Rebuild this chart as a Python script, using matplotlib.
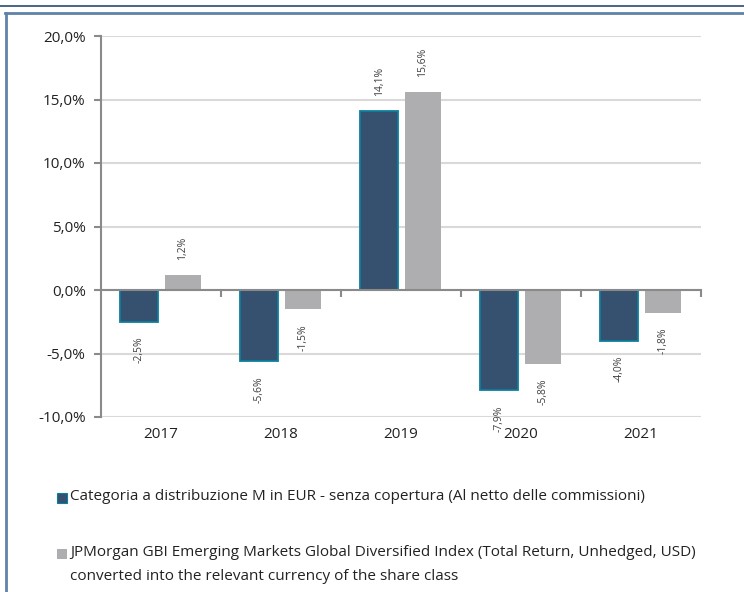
import matplotlib.pyplot as plt
from matplotlib.lines import Line2D
from matplotlib.patches import Rectangle
import numpy as np

years = ['2017', '2018', '2019', '2020', '2021']
fund = [-2.5, -5.6, 14.1, -7.9, -4.0]
index = [1.2, -1.5, 15.6, -5.8, -1.8]
fund_label = 'Categoria a distribuzione M in EUR - senza copertura (Al netto delle commissioni)'
index_label = ('JPMorgan GBI Emerging Markets Global Diversified Index (Total Return, Unhedged, USD)\n'
               'converted into the relevant currency of the share class')

plt.rcParams['font.family'] = ['Liberation Sans Narrow', 'Open Sans', 'DejaVu Sans']

dark = '#36506f'
edge = '#0b7f9c'
grey = '#aeaeb0'
W, H = 744, 592

fig = plt.figure(figsize=(W / 100, H / 100), dpi=100)
ax = fig.add_axes([101 / W, 1 - 417 / H, 600 / W, 381 / H])

x = np.arange(len(years))
ax.bar(x - 0.183, fund, width=0.31, color=dark, edgecolor=edge, linewidth=1.3, zorder=3)
ax.bar(x + 0.183, index, width=0.30, color=grey, zorder=3)

def fmt(v):
    return f'{v:.1f}%'.replace('.', ',')

for xs, vals in ((x - 0.183, fund), (x + 0.183, index)):
    for xi, v in zip(xs, vals):
        off = 15 if v >= 0 else -15
        ax.annotate(fmt(v), (xi, v), xytext=(0, off), textcoords='offset pixels',
                    rotation=90, ha='center', va='bottom' if v >= 0 else 'top',
                    fontsize=7.5, color='#404040')

ax.set_xlim(-0.5, 4.5)
ax.set_ylim(-10, 20)
ax.set_yticks(np.arange(-10, 21, 5))
ax.set_yticklabels([fmt(v) for v in np.arange(-10, 21, 5)], fontsize=11, color='#222222')
ax.grid(axis='y', color='#d9d9d9', linewidth=1.5, zorder=0)
ax.set_axisbelow(True)

for s in ('top', 'right'):
    ax.spines[s].set_visible(False)
ax.spines['left'].set_color('#8a8a8a')
ax.spines['left'].set_linewidth(1.5)
ax.spines['bottom'].set_position(('data', 0))
ax.spines['bottom'].set_color('#8a8a8a')
ax.spines['bottom'].set_linewidth(1.5)
ax.spines['bottom'].set_zorder(4)
ax.set_xticks(np.arange(0.5, 5, 1))
ax.set_xticklabels([])
ax.tick_params(axis='x', length=5, width=1.5, color='#8a8a8a', direction='out')
ax.tick_params(axis='y', length=5, width=1.5, color='#8a8a8a', pad=6)

for xi, yr in zip(x, years):
    ax.text(xi, -0.047, yr, transform=ax.get_xaxis_transform(), ha='center', va='center',
            fontsize=11, color='#222222')

# legend
fig.patches.append(Rectangle((57 / W, 1 - 503 / H), 10 / W, 10 / H, transform=fig.transFigure,
                             facecolor=dark, edgecolor=edge, linewidth=0.8))
fig.text(70 / W, 1 - 497 / H, fund_label, fontsize=11, va='center', color='#222222')
fig.patches.append(Rectangle((57 / W, 1 - 559 / H), 10 / W, 10 / H, transform=fig.transFigure,
                             facecolor=grey, edgecolor='none'))
fig.text(70 / W, 1 - 553 / H, index_label.split('\n')[0], fontsize=11, va='center', color='#222222')
fig.text(70 / W, 1 - 577 / H, index_label.split('\n')[1], fontsize=11, va='center', color='#222222')

# frame lines
fig.add_artist(Line2D([0, 1], [1 - 6 / H, 1 - 6 / H], transform=fig.transFigure, color='#2b4a6d', linewidth=1.2))
fig.add_artist(Line2D([5 / W, 1], [1 - 13 / H, 1 - 13 / H], transform=fig.transFigure, color='#5f82a8', linewidth=2))
fig.add_artist(Line2D([6 / W, 6 / W], [0, 1 - 13 / H], transform=fig.transFigure, color='#5f82a8', linewidth=2))

fig.savefig('out.png', dpi=100)
